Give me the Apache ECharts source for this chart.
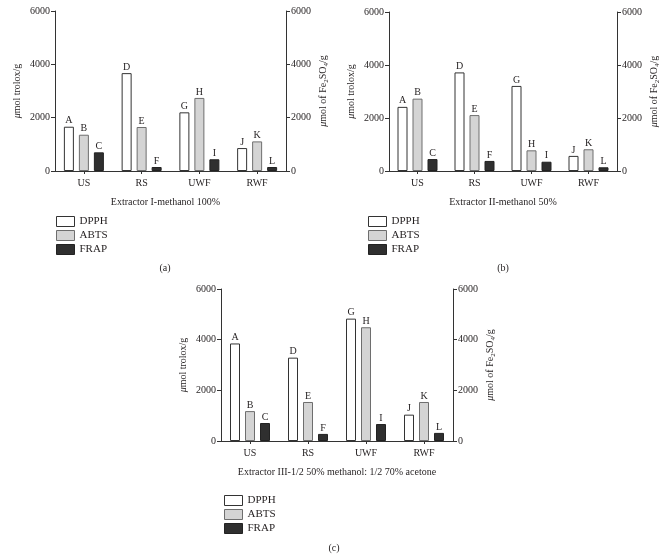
<!DOCTYPE html>
<html>
<head>
<meta charset="utf-8">
<script src="https://cdn.jsdelivr.net/npm/echarts@6/dist/echarts.min.js"></script>
<style>html,body{margin:0;padding:0;background:#fff}#c{width:672px;height:560px}</style>
</head>
<body>
<div id="c"></div>
<script>
var categories = ['US', 'RS', 'UWF', 'RWF'];
var seriesNames = ['DPPH', 'ABTS', 'FRAP'];
var yTicks = [0, 2000, 4000, 6000];

var dpphA = [1660, 3670, 2200, 860];
var abtsA = [1360, 1650, 2740, 1110];
var frapA = [700, 150, 440, 150];

var dpphB = [2420, 3720, 3210, 570];
var abtsB = [2730, 2110, 780, 820];
var frapB = [450, 380, 350, 140];

var dpphC = [3850, 3290, 4830, 1040];
var abtsC = [1180, 1540, 4490, 1540];
var frapC = [710, 280, 670, 320];

var lettersDPPH = ['A', 'D', 'G', 'J'];
var lettersABTS = ['B', 'E', 'H', 'K'];
var lettersFRAP = ['C', 'F', 'I', 'L'];

var panelTitles = ['Extractor I-methanol 100%', 'Extractor II-methanol 50%', 'Extractor III-1/2 50% methanol: 1/2 70% acetone'];
var panelTags = ['(a)', '(b)', '(c)'];

var FONT = '"Liberation Serif", "DejaVu Serif", serif';
var TXT = '#231f20';
var AX = '#333';

var panels = [
  {data: [dpphA, abtsA, frapA], grid: {left: 55, top: 11, width: 231, height: 160}, nameShift: 10,
   legend: {left: 56, top: 216}, tag: [165, 268]},
  {data: [dpphB, abtsB, frapB], grid: {left: 389, top: 12, width: 228, height: 159}, nameShift: 0,
   legend: {left: 368, top: 216}, tag: [503, 268]},
  {data: [dpphC, abtsC, frapC], grid: {left: 221, top: 289, width: 232, height: 152}, nameShift: 0,
   legend: {left: 224, top: 495}, tag: [334, 548]}
];

var styles = [
  {color: '#ffffff', borderColor: '#333333', borderWidth: 1},
  {color: '#d4d4d4', borderColor: '#6e6e6e', borderWidth: 1},
  {color: '#2f2f2f', borderColor: '#222222', borderWidth: 1}
];
var letters = [lettersDPPH, lettersABTS, lettersFRAP];

var grids = [], xAxes = [], yAxes = [], series = [], legends = [], graphics = [];

function yAxisDef(gi, pos) {
  var leftSide = pos === 'left';
  return {
    type: 'value', gridIndex: gi, position: pos, min: 0, max: 6000, interval: 2000,
    axisLine: {show: true, lineStyle: {color: AX, width: 1}},
    axisTick: {show: true, length: 4, lineStyle: {color: AX}},
    splitLine: {show: false},
    axisLabel: {color: TXT, fontFamily: FONT, fontSize: 10, margin: 5,
      formatter: function (v) { return yTicks.indexOf(v) >= 0 ? String(v) : ''; }},
    name: leftSide ? '{i|\u03bc}mol trolox/g' : '{i|\u03bc}mol of Fe{s|2}SO{s|4}/g',
    nameLocation: 'middle', nameRotate: 90, nameGap: leftSide ? 33 : 31,
    nameTextStyle: {color: TXT, fontFamily: FONT, fontSize: 10,
      rich: {
        i: {fontStyle: 'italic', fontFamily: FONT, fontSize: 10, color: TXT},
        s: {fontFamily: FONT, fontSize: 7, color: TXT, padding: [6, 0, 0, 0]}
      }}
  };
}

panels.forEach(function (p, gi) {
  grids.push(Object.assign({containLabel: false}, p.grid));
  xAxes.push({
    type: 'category', gridIndex: gi, data: categories,
    axisLine: {show: true, lineStyle: {color: AX, width: 1}},
    axisTick: {show: true, alignWithLabel: true, length: 3, lineStyle: {color: AX}},
    axisLabel: {color: TXT, fontFamily: FONT, fontSize: 10, margin: 7},
    name: panelTitles[gi], nameLocation: 'middle', nameGap: 26,
    nameTextStyle: {color: TXT, fontFamily: FONT, fontSize: 10, padding: [0, p.nameShift, 0, 0]}
  });
  yAxes.push(yAxisDef(gi, 'left'));
  yAxes.push(yAxisDef(gi, 'right'));
  seriesNames.forEach(function (nm, si) {
    series.push({
      type: 'bar', name: nm, xAxisIndex: gi, yAxisIndex: si === 2 ? gi * 2 + 1 : gi * 2,
      data: p.data[si], barWidth: 10, barGap: '50%', itemStyle: styles[si],
      label: {show: true, position: 'top', distance: 1, color: TXT, fontFamily: FONT, fontSize: 10,
        formatter: (function (arr) { return function (d) { return arr[d.dataIndex]; }; })(letters[si])},
      emphasis: {disabled: true}, animation: false
    });
  });
  legends.push({
    orient: 'vertical', left: p.legend.left, top: p.legend.top, padding: 0,
    itemWidth: 18, itemHeight: 10, itemGap: 3,
    icon: 'rect', data: seriesNames, selectedMode: false,
    itemStyle: {borderWidth: 1},
    textStyle: {color: TXT, fontFamily: FONT, fontSize: 11}
  });
  graphics.push({type: 'text', x: p.tag[0], y: p.tag[1],
    style: {text: panelTags[gi], fill: TXT, font: '10px ' + FONT, textAlign: 'center', textVerticalAlign: 'middle'}});
});

var chart = echarts.init(document.getElementById('c'), null, {renderer: 'canvas'});
chart.setOption({
  animation: false,
  backgroundColor: '#fff',
  grid: grids, xAxis: xAxes, yAxis: yAxes, series: series, legend: legends, graphic: graphics
});
</script>
</body>
</html>
